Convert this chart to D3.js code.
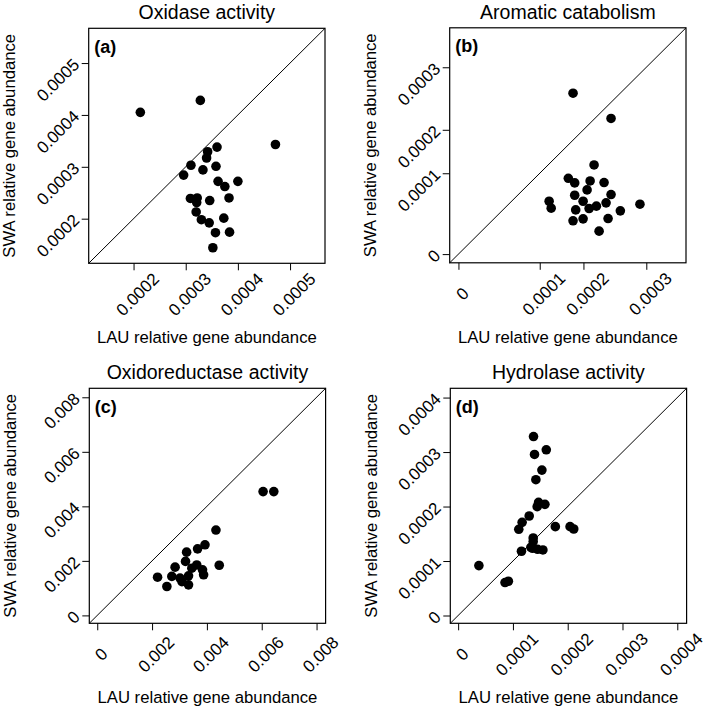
<!DOCTYPE html>
<html>
<head>
<meta charset="utf-8">
<script src="https://cdn.jsdelivr.net/npm/d3@7"></script>
<style>
  html, body { margin: 0; padding: 0; background: #fff; }
  svg { display: block; font-family: "Liberation Sans", Arial, sans-serif; }
</style>
</head>
<body>
<svg id="chart" width="709" height="711"></svg>
<script>
// ---------------- DATA ----------------
const titles = ["Oxidase activity", "Aromatic catabolism", "Oxidoreductase activity", "Hydrolase activity"];
const panelTags = ["(a)", "(b)", "(c)", "(d)"];
const xAxisTitle = "LAU relative gene abundance";
const yAxisTitle = "SWA relative gene abundance";

// (a) Oxidase activity
const aLAU = [0.000213,0.000328,0.000472,0.000342,0.000360,0.000340,0.000310,0.000333,0.000358,0.000296,0.000362,0.000375,0.000400,0.000309,0.000322,0.000321,0.000346,0.000383,0.000320,0.000330,0.000345,0.000373,0.000357,0.000384,0.000352];
const aSWA = [0.000405,0.000428,0.000343,0.000329,0.000338,0.000317,0.000303,0.000294,0.000301,0.000284,0.000272,0.000262,0.000272,0.000239,0.000240,0.000231,0.000235,0.000240,0.000213,0.000198,0.000192,0.000201,0.000173,0.000174,0.000144];
const aTicks = [0.0002, 0.0003, 0.0004, 0.0005];
const aTickLabels = ["0.0002", "0.0003", "0.0004", "0.0005"];
const aLimits = [0.000114, 0.000567];

// (b) Aromatic catabolism
const bLAU = [0.0001762,0.0002439,0.0002169,0.0001654,0.0001800,0.0002106,0.0002328,0.0002058,0.0001800,0.0002439,0.0001215,0.0001262,0.0001992,0.0002360,0.0001823,0.0002090,0.0002206,0.0002587,0.0002899,0.0001762,0.0001992,0.0002392,0.0002249];
const bSWA = [0.0002585,0.0002181,0.0001191,0.0000938,0.0000881,0.0000905,0.0000885,0.0000794,0.0000728,0.0000737,0.0000654,0.0000568,0.0000654,0.0000634,0.0000547,0.0000564,0.0000593,0.0000535,0.0000617,0.0000412,0.0000436,0.0000440,0.0000284];
const bTicks = [0, 0.0001, 0.0002, 0.0003];
const bTickLabels = ["0", "0.0001", "0.0002", "0.0003"];

// (c) Oxidoreductase activity
const cLAU = [0.00605,0.00644,0.00433,0.00393,0.00366,0.00326,0.00445,0.00284,0.00322,0.00363,0.00384,0.00388,0.00272,0.00302,0.00333,0.00254,0.00333,0.00309,0.00220,0.00345];
const cSWA = [0.00454,0.00454,0.00313,0.00259,0.00244,0.00232,0.00184,0.00177,0.00198,0.00185,0.00167,0.00149,0.00143,0.00137,0.00145,0.00106,0.00112,0.00124,0.00140,0.00173];
const cTicks = [0, 0.002, 0.004, 0.006, 0.008];
const cTickLabels = ["0", "0.002", "0.004", "0.006", "0.008"];
const cLimits = [-0.00029, 0.00833];

// (d) Hydrolase activity
const dLAU = [0.0001376,0.0001394,0.0001609,0.0001529,0.0001419,0.0001468,0.0001443,0.0001584,0.0001297,0.0001168,0.0001107,0.0001774,0.0002043,0.0002110,0.0001370,0.0001370,0.0001358,0.0001450,0.0001547,0.0001156,0.0000379,0.0000856,0.0000917,0.0001327];
const dSWA = [0.0003285,0.0002956,0.0003041,0.0002669,0.0002492,0.0002076,0.0001997,0.0002040,0.0001826,0.0001710,0.0001582,0.0001631,0.0001631,0.0001588,0.0001423,0.0001356,0.0001234,0.0001215,0.0001203,0.0001179,0.0000916,0.0000605,0.0000629,0.0001252];
const dTicks = [0, 0.0001, 0.0002, 0.0003, 0.0004];
const dTickLabels = ["0", "0.0001", "0.0002", "0.0003", "0.0004"];
const dLimits = [-0.0000143, 0.000417];

// ---------------- LAYOUT ----------------
const boxW = 236.3, boxH = 235;
const boxes = [
  { left: 88.7,  top: 28.3 },
  { left: 449.7, top: 27.8 },
  { left: 89.3,  top: 388.3 },
  { left: 450.3, top: 388.3 }
];
// panel (b) uses an uneven axis: tick positions as fractions of the box
const bTickFrac = [0.037, 0.381, 0.566, 0.832];

const svg = d3.select("#chart");

function makeScales(i, box) {
  const x0 = box.left, x1 = box.left + boxW;
  const y0 = box.top + boxH, y1 = box.top;
  if (i === 1) {
    const x = d3.scaleLinear().domain(bTicks).range(bTickFrac.map(f => x0 + f * boxW));
    const y = d3.scaleLinear().domain(bTicks).range(bTickFrac.map(f => y0 - f * boxH));
    return { x, y, lim: [x.invert(x0), x.invert(x1)], limY: [y.invert(y0), y.invert(y1)] };
  }
  const lim = [aLimits, null, cLimits, dLimits][i];
  const x = d3.scaleLinear().domain(lim).range([x0, x1]);
  const y = d3.scaleLinear().domain(lim).range([y0, y1]);
  return { x, y, lim, limY: lim };
}

const panels = [
  { lau: aLAU, swa: aSWA, ticks: aTicks, labels: aTickLabels },
  { lau: bLAU, swa: bSWA, ticks: bTicks, labels: bTickLabels },
  { lau: cLAU, swa: cSWA, ticks: cTicks, labels: cTickLabels },
  { lau: dLAU, swa: dSWA, ticks: dTicks, labels: dTickLabels }
];

panels.forEach((p, i) => {
  const box = boxes[i];
  const { x, y, lim, limY } = makeScales(i, box);
  const g = svg.append("g");
  const cx = box.left + boxW / 2;
  const cy = box.top + boxH / 2;

  // title
  g.append("text").attr("x", cx).attr("y", box.top - 9)
    .attr("text-anchor", "middle").attr("font-size", "19.5px").attr("fill", "#000")
    .text(titles[i]);

  // diagonal 1:1 line
  g.append("line")
    .attr("x1", x(lim[0])).attr("y1", y(limY[0]))
    .attr("x2", x(lim[1])).attr("y2", y(limY[1]))
    .attr("stroke", "#000").attr("stroke-width", 1);

  // points
  g.append("g").selectAll("circle").data(p.lau.map((v, k) => [v, p.swa[k]]))
    .join("circle")
    .attr("cx", d => x(d[0])).attr("cy", d => y(d[1])).attr("r", 4.8)
    .attr("fill", "#000");

  // box
  g.append("rect").attr("x", box.left).attr("y", box.top)
    .attr("width", boxW).attr("height", boxH)
    .attr("fill", "none").attr("stroke", "#000").attr("stroke-width", 1.2);

  // x axis
  const xa = d3.axisBottom(x).tickValues(p.ticks)
    .tickFormat((d, k) => p.labels[k]).tickSize(7).tickSizeOuter(0);
  const gx = g.append("g").attr("transform", `translate(0,${box.top + boxH})`).call(xa);
  gx.select(".domain").remove();
  gx.selectAll(".tick line").attr("stroke", "#000").attr("stroke-width", 1);
  gx.selectAll(".tick text")
    .attr("x", 3.5).attr("y", 31).attr("dy", "0.35em")
    .attr("text-anchor", "middle")
    .attr("transform", "rotate(-45, 3.5, 31)")
    .attr("font-size", "17px").attr("font-family", "Liberation Sans, Arial, sans-serif")
    .attr("fill", "#000");

  // y axis
  const ya = d3.axisLeft(y).tickValues(p.ticks)
    .tickFormat((d, k) => p.labels[k]).tickSize(7).tickSizeOuter(0);
  const gy = g.append("g").attr("transform", `translate(${box.left},0)`).call(ya);
  gy.select(".domain").remove();
  gy.selectAll(".tick line").attr("stroke", "#000").attr("stroke-width", 1);
  gy.selectAll(".tick text")
    .attr("x", -12.5).attr("y", -2).attr("dy", "0.35em")
    .attr("text-anchor", "end")
    .attr("transform", "rotate(-45, -12.5, -2)")
    .attr("font-size", "17px").attr("font-family", "Liberation Sans, Arial, sans-serif")
    .attr("fill", "#000");

  // axis titles
  g.append("text").attr("x", cx).attr("y", box.top + boxH + 80)
    .attr("text-anchor", "middle").attr("font-size", "16.7px").attr("fill", "#000")
    .text(xAxisTitle);
  g.append("text")
    .attr("transform", `translate(${box.left - 73.5},${cy}) rotate(-90)`)
    .attr("text-anchor", "middle").attr("font-size", "16.7px").attr("fill", "#000")
    .text(yAxisTitle);

  // panel tag
  g.append("text").attr("x", box.left + 5.5).attr("y", box.top + 24.5)
    .attr("font-size", "18px").attr("font-weight", "bold").attr("fill", "#000")
    .text(panelTags[i]);
});
</script>
</body>
</html>
